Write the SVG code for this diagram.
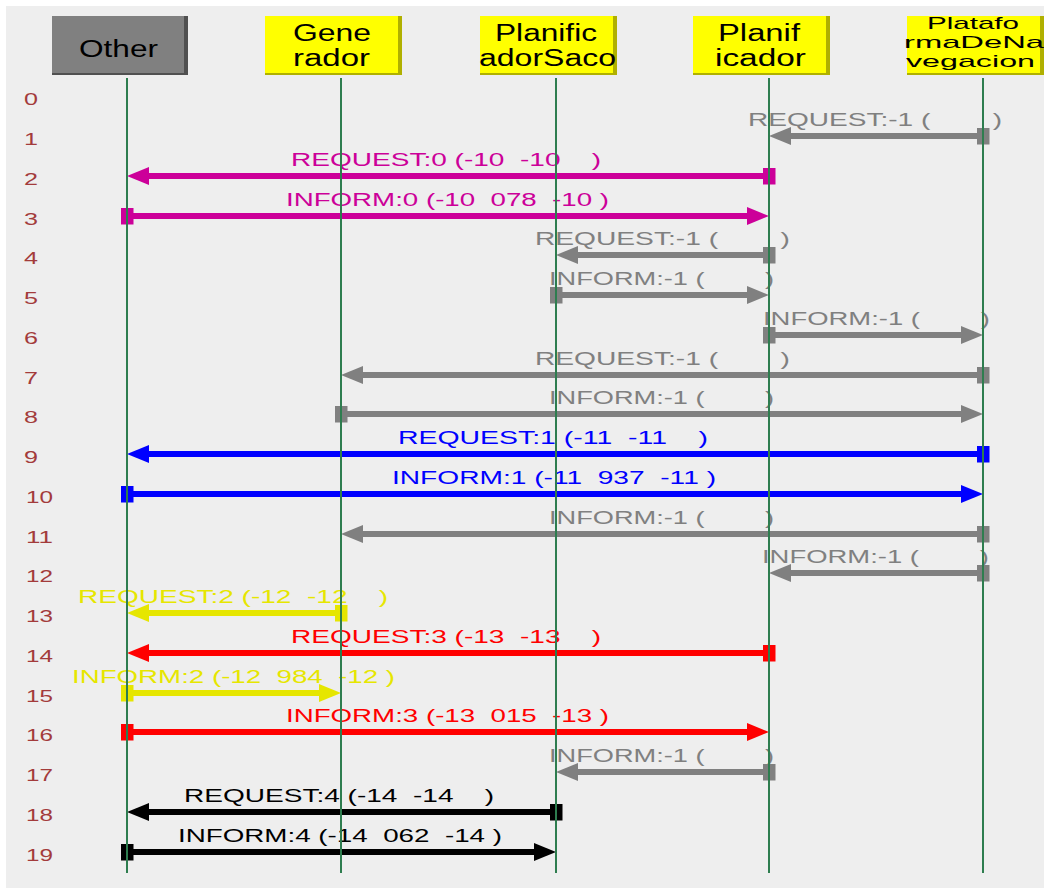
<svg xmlns="http://www.w3.org/2000/svg" width="1044" height="890" viewBox="0 0 1044 890">
<style>
.hd{font-family:"Liberation Sans",Arial,sans-serif;font-size:23px;fill:#000}
.hs{font-family:"Liberation Sans",Arial,sans-serif;font-size:17px;fill:#000}
.rn{font-family:"Liberation Sans",Arial,sans-serif;font-size:17px;fill:#a33b3b}
.lb{font-family:"Liberation Sans",Arial,sans-serif;font-size:18px;white-space:pre}
.life{stroke:#2e7d4f;stroke-width:2}
.m{fill:none;stroke-width:6}
.gray{stroke:#808080}.tgray{fill:#808080}
.mag{stroke:#cc0099}.tmag{fill:#cc0099}
.blue{stroke:#0000ff}.tblue{fill:#0000ff}
.yel{stroke:#e6e600}.tyel{fill:#e6e600}
.red{stroke:#ff0000}.tred{fill:#ff0000}
.blk{stroke:#000}.tblk{fill:#000}
.ybox{fill:#ffff00}.yshad{fill:#b0b000}
.gbox{fill:#808080}.gshad{fill:#505050}
</style>
<defs>
<marker id="aGray" markerUnits="userSpaceOnUse" markerWidth="22" markerHeight="18" refX="7" refY="9" orient="auto"><path d="M0,0 L22,9 L0,18 z" fill="#808080"/></marker>
<marker id="sGray" markerUnits="userSpaceOnUse" markerWidth="13" markerHeight="17" refX="6.5" refY="8.5" orient="auto"><rect width="13" height="17" fill="#808080"/></marker>
<marker id="aMag" markerUnits="userSpaceOnUse" markerWidth="22" markerHeight="18" refX="7" refY="9" orient="auto"><path d="M0,0 L22,9 L0,18 z" fill="#cc0099"/></marker>
<marker id="sMag" markerUnits="userSpaceOnUse" markerWidth="13" markerHeight="17" refX="6.5" refY="8.5" orient="auto"><rect width="13" height="17" fill="#cc0099"/></marker>
<marker id="aBlue" markerUnits="userSpaceOnUse" markerWidth="22" markerHeight="18" refX="7" refY="9" orient="auto"><path d="M0,0 L22,9 L0,18 z" fill="#0000ff"/></marker>
<marker id="sBlue" markerUnits="userSpaceOnUse" markerWidth="13" markerHeight="17" refX="6.5" refY="8.5" orient="auto"><rect width="13" height="17" fill="#0000ff"/></marker>
<marker id="aYel" markerUnits="userSpaceOnUse" markerWidth="22" markerHeight="18" refX="7" refY="9" orient="auto"><path d="M0,0 L22,9 L0,18 z" fill="#e6e600"/></marker>
<marker id="sYel" markerUnits="userSpaceOnUse" markerWidth="13" markerHeight="17" refX="6.5" refY="8.5" orient="auto"><rect width="13" height="17" fill="#e6e600"/></marker>
<marker id="aRed" markerUnits="userSpaceOnUse" markerWidth="22" markerHeight="18" refX="7" refY="9" orient="auto"><path d="M0,0 L22,9 L0,18 z" fill="#ff0000"/></marker>
<marker id="sRed" markerUnits="userSpaceOnUse" markerWidth="13" markerHeight="17" refX="6.5" refY="8.5" orient="auto"><rect width="13" height="17" fill="#ff0000"/></marker>
<marker id="aBlk" markerUnits="userSpaceOnUse" markerWidth="22" markerHeight="18" refX="7" refY="9" orient="auto"><path d="M0,0 L22,9 L0,18 z" fill="#000"/></marker>
<marker id="sBlk" markerUnits="userSpaceOnUse" markerWidth="13" markerHeight="17" refX="6.5" refY="8.5" orient="auto"><rect width="13" height="17" fill="#000"/></marker>
</defs>
<rect width="1044" height="890" fill="#ffffff"/>
<rect x="6" y="6" width="1038" height="882" fill="#eeeeee"/>

<g id="rows">
<text class="rn" x="24" y="105" textLength="14" lengthAdjust="spacingAndGlyphs">0</text>
<text class="rn" x="24" y="145" textLength="14" lengthAdjust="spacingAndGlyphs">1</text>
<text class="rn" x="24" y="185" textLength="14" lengthAdjust="spacingAndGlyphs">2</text>
<text class="rn" x="24" y="225" textLength="14" lengthAdjust="spacingAndGlyphs">3</text>
<text class="rn" x="24" y="264" textLength="14" lengthAdjust="spacingAndGlyphs">4</text>
<text class="rn" x="24" y="304" textLength="14" lengthAdjust="spacingAndGlyphs">5</text>
<text class="rn" x="24" y="344" textLength="14" lengthAdjust="spacingAndGlyphs">6</text>
<text class="rn" x="24" y="384" textLength="14" lengthAdjust="spacingAndGlyphs">7</text>
<text class="rn" x="24" y="423" textLength="14" lengthAdjust="spacingAndGlyphs">8</text>
<text class="rn" x="24" y="463" textLength="14" lengthAdjust="spacingAndGlyphs">9</text>
<text class="rn" x="26" y="503" textLength="27" lengthAdjust="spacingAndGlyphs">10</text>
<text class="rn" x="26" y="543" textLength="27" lengthAdjust="spacingAndGlyphs">11</text>
<text class="rn" x="26" y="582" textLength="27" lengthAdjust="spacingAndGlyphs">12</text>
<text class="rn" x="26" y="622" textLength="27" lengthAdjust="spacingAndGlyphs">13</text>
<text class="rn" x="26" y="662" textLength="27" lengthAdjust="spacingAndGlyphs">14</text>
<text class="rn" x="26" y="702" textLength="27" lengthAdjust="spacingAndGlyphs">15</text>
<text class="rn" x="26" y="741" textLength="27" lengthAdjust="spacingAndGlyphs">16</text>
<text class="rn" x="26" y="781" textLength="27" lengthAdjust="spacingAndGlyphs">17</text>
<text class="rn" x="26" y="821" textLength="27" lengthAdjust="spacingAndGlyphs">18</text>
<text class="rn" x="26" y="861" textLength="27" lengthAdjust="spacingAndGlyphs">19</text>
</g>

<g id="connectors">
<path class="m gray" d="M983,136 H784" marker-start="url(#sGray)" marker-end="url(#aGray)"/>
<text class="lb tgray" x="748" y="126" textLength="254" lengthAdjust="spacingAndGlyphs">REQUEST:-1 (        )</text>
<path class="m mag" d="M769,176 H142" marker-start="url(#sMag)" marker-end="url(#aMag)"/>
<text class="lb tmag" x="291" y="166" textLength="310" lengthAdjust="spacingAndGlyphs">REQUEST:0 (-10  -10    )</text>
<path class="m mag" d="M127,216 H754" marker-start="url(#sMag)" marker-end="url(#aMag)"/>
<text class="lb tmag" x="286" y="206" textLength="323" lengthAdjust="spacingAndGlyphs">INFORM:0 (-10  078  -10 )</text>
<path class="m gray" d="M769,255 H571" marker-start="url(#sGray)" marker-end="url(#aGray)"/>
<text class="lb tgray" x="535" y="245" textLength="255" lengthAdjust="spacingAndGlyphs">REQUEST:-1 (        )</text>
<path class="m gray" d="M556,295 H754" marker-start="url(#sGray)" marker-end="url(#aGray)"/>
<text class="lb tgray" x="549" y="285" textLength="225" lengthAdjust="spacingAndGlyphs">INFORM:-1 (        )</text>
<path class="m gray" d="M769,335 H968" marker-start="url(#sGray)" marker-end="url(#aGray)"/>
<text class="lb tgray" x="763" y="325" textLength="227" lengthAdjust="spacingAndGlyphs">INFORM:-1 (        )</text>
<path class="m gray" d="M983,375 H356" marker-start="url(#sGray)" marker-end="url(#aGray)"/>
<text class="lb tgray" x="535" y="365" textLength="255" lengthAdjust="spacingAndGlyphs">REQUEST:-1 (        )</text>
<path class="m gray" d="M341,414 H968" marker-start="url(#sGray)" marker-end="url(#aGray)"/>
<text class="lb tgray" x="549" y="404" textLength="225" lengthAdjust="spacingAndGlyphs">INFORM:-1 (        )</text>
<path class="m blue" d="M983,454 H142" marker-start="url(#sBlue)" marker-end="url(#aBlue)"/>
<text class="lb tblue" x="398" y="444" textLength="310" lengthAdjust="spacingAndGlyphs">REQUEST:1 (-11  -11    )</text>
<path class="m blue" d="M127,494 H968" marker-start="url(#sBlue)" marker-end="url(#aBlue)"/>
<text class="lb tblue" x="392" y="484" textLength="324" lengthAdjust="spacingAndGlyphs">INFORM:1 (-11  937  -11 )</text>
<path class="m gray" d="M983,534 H356" marker-start="url(#sGray)" marker-end="url(#aGray)"/>
<text class="lb tgray" x="549" y="524" textLength="225" lengthAdjust="spacingAndGlyphs">INFORM:-1 (        )</text>
<path class="m gray" d="M983,573 H784" marker-start="url(#sGray)" marker-end="url(#aGray)"/>
<text class="lb tgray" x="762" y="563" textLength="227" lengthAdjust="spacingAndGlyphs">INFORM:-1 (        )</text>
<path class="m yel" d="M341,613 H142" marker-start="url(#sYel)" marker-end="url(#aYel)"/>
<text class="lb tyel" x="78" y="603" textLength="310" lengthAdjust="spacingAndGlyphs">REQUEST:2 (-12  -12    )</text>
<path class="m red" d="M769,653 H142" marker-start="url(#sRed)" marker-end="url(#aRed)"/>
<text class="lb tred" x="291" y="643" textLength="310" lengthAdjust="spacingAndGlyphs">REQUEST:3 (-13  -13    )</text>
<path class="m yel" d="M127,693 H326" marker-start="url(#sYel)" marker-end="url(#aYel)"/>
<text class="lb tyel" x="72" y="683" textLength="323" lengthAdjust="spacingAndGlyphs">INFORM:2 (-12  984  -12 )</text>
<path class="m red" d="M127,732 H754" marker-start="url(#sRed)" marker-end="url(#aRed)"/>
<text class="lb tred" x="286" y="722" textLength="323" lengthAdjust="spacingAndGlyphs">INFORM:3 (-13  015  -13 )</text>
<path class="m gray" d="M769,772 H571" marker-start="url(#sGray)" marker-end="url(#aGray)"/>
<text class="lb tgray" x="549" y="762" textLength="225" lengthAdjust="spacingAndGlyphs">INFORM:-1 (        )</text>
<path class="m blk" d="M556,812 H142" marker-start="url(#sBlk)" marker-end="url(#aBlk)"/>
<text class="lb tblk" x="184" y="802" textLength="310" lengthAdjust="spacingAndGlyphs">REQUEST:4 (-14  -14    )</text>
<path class="m blk" d="M127,852 H541" marker-start="url(#sBlk)" marker-end="url(#aBlk)"/>
<text class="lb tblk" x="178" y="842" textLength="324" lengthAdjust="spacingAndGlyphs">INFORM:4 (-14  062  -14 )</text>
</g>

<g id="other">
<rect class="gbox" x="52" y="16" width="132" height="57"/>
<rect class="gshad" x="184" y="16" width="4" height="59"/>
<rect class="gshad" x="52" y="73" width="136" height="2"/>
<text class="hd" x="79" y="57" textLength="79" lengthAdjust="spacingAndGlyphs">Other</text>
<line class="life" x1="127" y1="78" x2="127" y2="873"/>
</g>
<g id="generador">
<rect class="ybox" x="265" y="16" width="133" height="57"/>
<rect class="yshad" x="398" y="16" width="4" height="59"/>
<rect class="yshad" x="265" y="73" width="137" height="2"/>
<text class="hd" x="293" y="41" textLength="78" lengthAdjust="spacingAndGlyphs">Gene</text>
<text class="hd" x="293" y="66" textLength="77" lengthAdjust="spacingAndGlyphs">rador</text>
<line class="life" x1="341" y1="78" x2="341" y2="873"/>
</g>
<g id="planificadorSaco">
<rect class="ybox" x="480" y="16" width="133" height="57"/>
<rect class="yshad" x="613" y="16" width="4" height="59"/>
<rect class="yshad" x="480" y="73" width="137" height="2"/>
<text class="hd" x="495" y="41" textLength="102" lengthAdjust="spacingAndGlyphs">Planific</text>
<text class="hd" x="479" y="66" textLength="137" lengthAdjust="spacingAndGlyphs">adorSaco</text>
<line class="life" x1="556" y1="78" x2="556" y2="873"/>
</g>
<g id="planificador">
<rect class="ybox" x="693" y="16" width="133" height="57"/>
<rect class="yshad" x="826" y="16" width="4" height="59"/>
<rect class="yshad" x="693" y="73" width="137" height="2"/>
<text class="hd" x="718" y="41" textLength="82" lengthAdjust="spacingAndGlyphs">Planif</text>
<text class="hd" x="715" y="66" textLength="91" lengthAdjust="spacingAndGlyphs">icador</text>
<line class="life" x1="769" y1="78" x2="769" y2="873"/>
</g>
<g id="plataformaDeNavegacion">
<rect class="ybox" x="907" y="16" width="133" height="57"/>
<rect class="yshad" x="1040" y="16" width="4" height="59"/>
<rect class="yshad" x="907" y="73" width="137" height="2"/>
<text class="hs" x="927" y="29" textLength="92" lengthAdjust="spacingAndGlyphs">Platafo</text>
<text class="hs" x="904" y="48" textLength="140" lengthAdjust="spacingAndGlyphs">rmaDeNa</text>
<text class="hs" x="906" y="67" textLength="129" lengthAdjust="spacingAndGlyphs">vegacion</text>
<line class="life" x1="983" y1="78" x2="983" y2="873"/>
</g>
</svg>
